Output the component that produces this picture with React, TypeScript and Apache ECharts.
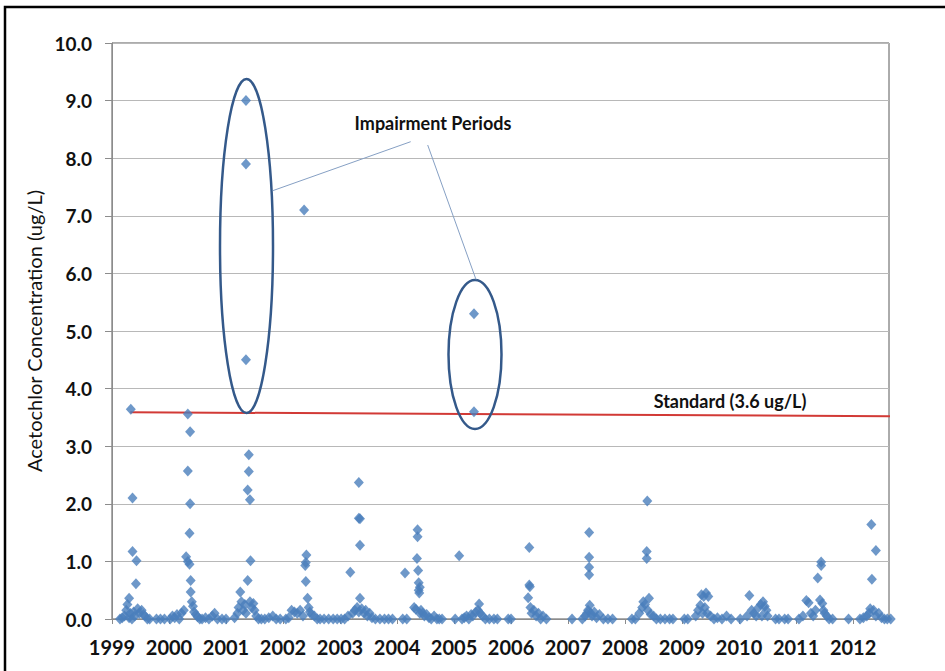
import React, { useEffect, useRef } from "react";
import * as echarts from "echarts";

// Sampling date (decimal year), concentration (ug/L)
const s1999: [number, number][] = [
  [1999.14, 0], [1999.18, 0.02], [1999.22, 0.05], [1999.25, 0.15], [1999.27, 0.25], [1999.3, 0.36],
  [1999.3, 0.02], [1999.32, 0.1], [1999.33, 3.64], [1999.35, 0], [1999.36, 2.1], [1999.36, 1.17],
  [1999.38, 0.12], [1999.4, 0.05], [1999.42, 0.61], [1999.43, 1.01], [1999.45, 0.18], [1999.48, 0.1],
  [1999.52, 0.15], [1999.55, 0.08], [1999.58, 0.05], [1999.62, 0], [1999.66, 0], [1999.78, 0],
  [1999.85, 0], [1999.92, 0],
];
const s2000: [number, number][] = [
  [2000.02, 0], [2000.06, 0.05], [2000.1, 0.02], [2000.14, 0.08], [2000.18, 0], [2000.22, 0.1],
  [2000.26, 0.15], [2000.3, 1.08], [2000.33, 1.0], [2000.36, 0.95], [2000.33, 3.56], [2000.37, 3.25],
  [2000.33, 2.57], [2000.37, 2.0], [2000.36, 1.49], [2000.38, 0.67], [2000.38, 0.47], [2000.4, 0.3],
  [2000.42, 0.22], [2000.44, 0.12], [2000.47, 0.08], [2000.5, 0.04], [2000.54, 0], [2000.58, 0],
  [2000.64, 0.02], [2000.7, 0], [2000.76, 0.05], [2000.8, 0.1], [2000.85, 0], [2000.93, 0],
];
const s2001: [number, number][] = [
  [2001.0, 0], [2001.15, 0.02], [2001.2, 0.1], [2001.22, 0.2], [2001.25, 0.47], [2001.27, 0.3],
  [2001.3, 0.15], [2001.33, 0.25], [2001.35, 0.1], [2001.35, 9.0], [2001.35, 7.9], [2001.35, 4.5],
  [2001.4, 2.85], [2001.4, 2.56], [2001.38, 2.24], [2001.42, 2.07], [2001.43, 1.01], [2001.38, 0.67],
  [2001.42, 0.3], [2001.45, 0.2], [2001.48, 0.27], [2001.5, 0.15], [2001.53, 0.05], [2001.57, 0],
  [2001.62, 0], [2001.68, 0], [2001.75, 0.02], [2001.82, 0.05], [2001.88, 0], [2001.95, 0],
];
const s2002: [number, number][] = [
  [2002.05, 0], [2002.1, 0.02], [2002.15, 0.15], [2002.2, 0.12], [2002.25, 0.1], [2002.3, 0.15],
  [2002.35, 0.05], [2002.37, 7.1], [2002.41, 1.11], [2002.4, 0.98], [2002.39, 0.93], [2002.4, 0.65],
  [2002.43, 0.36], [2002.45, 0.2], [2002.47, 0.12], [2002.5, 0.08], [2002.55, 0.05], [2002.6, 0],
  [2002.65, 0], [2002.72, 0], [2002.8, 0], [2002.88, 0], [2002.95, 0],
];
const s2003: [number, number][] = [
  [2003.02, 0], [2003.08, 0], [2003.14, 0.05], [2003.18, 0.81], [2003.22, 0.1], [2003.26, 0.15],
  [2003.3, 0.2], [2003.33, 2.37], [2003.33, 1.75], [2003.35, 1.74], [2003.35, 1.28], [2003.35, 0.36],
  [2003.33, 0.12], [2003.38, 0.18], [2003.42, 0.1], [2003.45, 0.15], [2003.48, 0.05], [2003.52, 0.1],
  [2003.56, 0.02], [2003.62, 0], [2003.7, 0], [2003.78, 0], [2003.85, 0], [2003.92, 0],
];
const s2004: [number, number][] = [
  [2004.1, 0], [2004.14, 0.8], [2004.17, 0], [2004.3, 0.2], [2004.33, 0.17], [2004.36, 1.55],
  [2004.36, 1.43], [2004.35, 1.05], [2004.37, 0.84], [2004.38, 0.63], [2004.4, 0.55], [2004.38, 0.5],
  [2004.39, 0.45], [2004.4, 0.1], [2004.42, 0.15], [2004.45, 0.1], [2004.48, 0.05], [2004.52, 0.08],
  [2004.56, 0.02], [2004.6, 0], [2004.65, 0.05], [2004.7, 0], [2004.74, 0], [2004.79, 0],
];
const s2005: [number, number][] = [
  [2005.02, 0], [2005.09, 1.1], [2005.14, 0], [2005.18, 0.02], [2005.22, 0.05], [2005.26, 0],
  [2005.3, 0.08], [2005.33, 0.05], [2005.35, 5.3], [2005.35, 3.6], [2005.38, 0.12], [2005.42, 0.15],
  [2005.44, 0.26], [2005.46, 0.1], [2005.5, 0.05], [2005.55, 0], [2005.62, 0], [2005.7, 0], [2005.76, 0],
];
const s2006: [number, number][] = [
  [2005.95, 0], [2006.0, 0], [2006.3, 0.37], [2006.32, 1.24], [2006.32, 0.59], [2006.33, 0.56],
  [2006.34, 0.2], [2006.36, 0.1], [2006.4, 0.15], [2006.44, 0.05], [2006.48, 0.1], [2006.52, 0],
  [2006.56, 0.05], [2006.62, 0],
];
const s2007: [number, number][] = [
  [2007.07, 0], [2007.25, 0], [2007.3, 0.05], [2007.33, 0.1], [2007.35, 0.15], [2007.37, 1.5],
  [2007.37, 1.07], [2007.37, 0.9], [2007.37, 0.77], [2007.38, 0.24], [2007.4, 0.1], [2007.42, 0.05],
  [2007.46, 0.12], [2007.5, 0.02], [2007.55, 0.08], [2007.62, 0], [2007.7, 0], [2007.78, 0],
];
const s2008: [number, number][] = [
  [2008.12, 0], [2008.18, 0], [2008.25, 0.1], [2008.3, 0.2], [2008.32, 0.3], [2008.35, 0.25],
  [2008.39, 2.05], [2008.38, 1.17], [2008.38, 1.05], [2008.42, 0.36], [2008.4, 0.15], [2008.45, 0.08],
  [2008.5, 0.05], [2008.55, 0], [2008.62, 0], [2008.7, 0], [2008.78, 0], [2008.84, 0],
];
const s2009: [number, number][] = [
  [2009.04, 0], [2009.1, 0], [2009.24, 0.05], [2009.28, 0.15], [2009.32, 0.24], [2009.34, 0.42],
  [2009.38, 0.39], [2009.42, 0.45], [2009.46, 0.39], [2009.36, 0.1], [2009.4, 0.2], [2009.44, 0.1],
  [2009.5, 0.05], [2009.56, 0], [2009.62, 0.02], [2009.7, 0], [2009.78, 0.05], [2009.86, 0],
];
const s2010: [number, number][] = [
  [2010.02, 0], [2010.14, 0.05], [2010.18, 0.41], [2010.22, 0.15], [2010.26, 0.1], [2010.3, 0.05],
  [2010.34, 0.2], [2010.38, 0.25], [2010.42, 0.3], [2010.45, 0.22], [2010.48, 0.15], [2010.5, 0.05],
  [2010.4, 0.05], [2010.64, 0], [2010.7, 0], [2010.8, 0], [2010.86, 0],
];
const s2011: [number, number][] = [
  [2011.05, 0], [2011.12, 0.05], [2011.18, 0.32], [2011.22, 0.28], [2011.26, 0.1], [2011.3, 0.05],
  [2011.34, 0.15], [2011.38, 0.71], [2011.42, 0.33], [2011.44, 0.99], [2011.44, 0.93], [2011.46, 0.27],
  [2011.48, 0.15], [2011.5, 0.1], [2011.54, 0.05], [2011.58, 0], [2011.64, 0],
];
const s2012: [number, number][] = [
  [2011.92, 0], [2012.12, 0], [2012.18, 0.02], [2012.24, 0.05], [2012.28, 0.1], [2012.3, 0.18],
  [2012.32, 1.64], [2012.4, 1.19], [2012.33, 0.69], [2012.36, 0.15], [2012.4, 0.05], [2012.45, 0.1],
  [2012.5, 0.02], [2012.55, 0], [2012.6, 0], [2012.66, 0],
];

const standardLine: [number, number][] = [
  [1999.32, 3.59],
  [2012.77, 3.52],
];

const X_MIN = 1999;
const X_MAX = 2012.63;
const Y_MIN = 0;
const Y_MAX = 10;

const FONT = "Lato, 'Open Sans', sans-serif";

export default function App() {
  const ref = useRef<HTMLDivElement>(null);
  useEffect(() => {
    if (!ref.current) return;
    const chart = echarts.init(ref.current, undefined, { renderer: "svg" });
    const samples = [
      ...s1999, ...s2000, ...s2001, ...s2002, ...s2003, ...s2004, ...s2005,
      ...s2006, ...s2007, ...s2008, ...s2009, ...s2010, ...s2011, ...s2012,
    ];
    const ellipseStroke = "#34598A";
    const calloutStroke = "#86A0C4";
    chart.setOption({
      animation: false,
      backgroundColor: "#ffffff",
      grid: {
        left: 112,
        top: 43,
        right: 56,
        bottom: 52,
        show: true,
        borderColor: "#595959",
        borderWidth: 1,
        backgroundColor: "transparent",
      },
      xAxis: {
        type: "value",
        min: X_MIN,
        max: X_MAX,
        interval: 1,
        axisLine: { show: true, lineStyle: { color: "#8c8c8c", width: 1 } },
        axisTick: { show: true, length: 5, lineStyle: { color: "#8c8c8c" } },
        splitLine: { show: false },
        axisLabel: {
          showMaxLabel: false,
          margin: 18,
          fontFamily: FONT,
          fontWeight: "bold",
          fontSize: 20,
          color: "#111",
          formatter: (v: number) => (Math.abs(v - Math.round(v)) < 1e-6 ? String(Math.round(v)) : ""),
        },
      },
      yAxis: {
        type: "value",
        min: Y_MIN,
        max: Y_MAX,
        interval: 1,
        name: "Acetochlor Concentration (ug/L)",
        nameLocation: "middle",
        nameGap: 66,
        nameRotate: 90,
        nameTextStyle: { fontFamily: FONT, fontSize: 20, color: "#111" },
        axisLine: { show: true, lineStyle: { color: "#8c8c8c", width: 1 } },
        axisTick: { show: true, length: 7, lineStyle: { color: "#8c8c8c" } },
        splitLine: { show: true, lineStyle: { color: "#b8b8b8", width: 1 } },
        axisLabel: {
          margin: 20,
          fontFamily: FONT,
          fontWeight: "bold",
          fontSize: 19,
          color: "#111",
          formatter: (v: number) => v.toFixed(1),
        },
      },
      series: [
        {
          type: "line",
          data: standardLine,
          symbol: "none",
          clip: false,
          lineStyle: { color: "#D23A36", width: 2 },
          z: 2,
        },
        {
          type: "scatter",
          data: samples,
          symbol: "diamond",
          symbolSize: [10, 11],
          clip: false,
          itemStyle: { color: "#4A7EBB" },
          z: 3,
        },
      ],
      graphic: [
        {
          type: "rect",
          shape: { x: 5, y: 7, width: 2000, height: 2000 },
          style: { fill: "none", stroke: "#000", lineWidth: 2.5 },
          z: 100,
        },
        {
          type: "ellipse",
          shape: { cx: 246.5, cy: 246, rx: 26.5, ry: 167 },
          style: { fill: "none", stroke: ellipseStroke, lineWidth: 2.5 },
          z: 100,
        },
        {
          type: "ellipse",
          shape: { cx: 475, cy: 354.5, rx: 26.5, ry: 74.5 },
          style: { fill: "none", stroke: ellipseStroke, lineWidth: 2.5 },
          z: 100,
        },
        {
          type: "line",
          shape: { x1: 272.7, y1: 190.7, x2: 410.7, y2: 141.7 },
          style: { stroke: calloutStroke, lineWidth: 1 },
          z: 100,
        },
        {
          type: "line",
          shape: { x1: 427.7, y1: 145, x2: 476, y2: 279.5 },
          style: { stroke: calloutStroke, lineWidth: 1 },
          z: 100,
        },
        {
          type: "text",
          x: 433,
          y: 123,
          style: {
            text: "Impairment Periods",
            fontFamily: FONT,
            fontWeight: "bold",
            fontSize: 18,
            fill: "#111",
            align: "center",
            verticalAlign: "middle",
          },
          z: 100,
        },
        {
          type: "text",
          x: 730,
          y: 401,
          style: {
            text: "Standard (3.6 ug/L)",
            fontFamily: FONT,
            fontWeight: "bold",
            fontSize: 18,
            fill: "#111",
            align: "center",
            verticalAlign: "middle",
          },
          z: 100,
        },
      ],
    });
    return () => chart.dispose();
  }, []);
  return (
    <div
      ref={ref}
      style={{ position: "fixed", left: 0, top: 0, width: 945, height: 671 }}
    />
  );
}
